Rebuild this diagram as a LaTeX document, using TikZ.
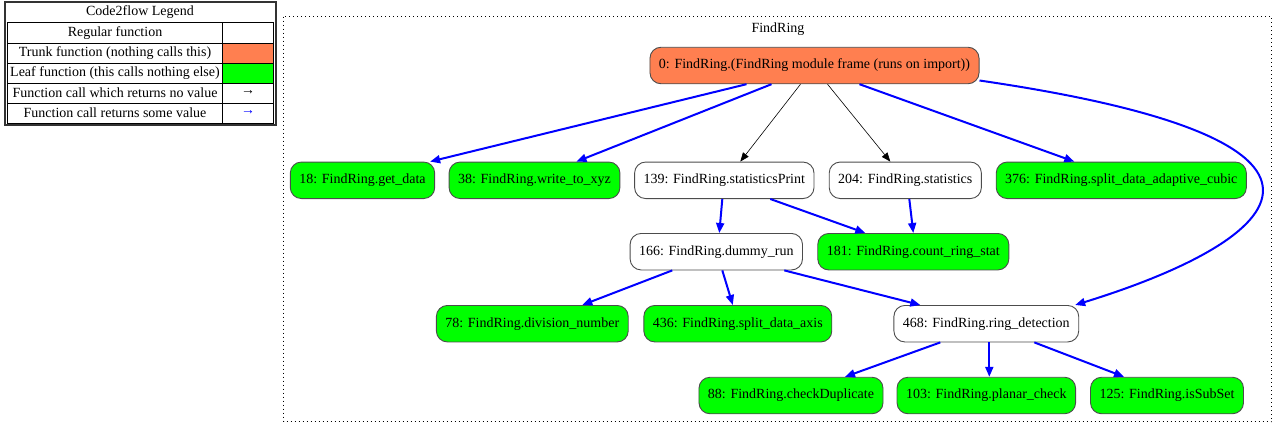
\documentclass[tikz,border=0pt]{standalone}
\usepackage{fontspec}
\setmainfont{Liberation Serif}
\usetikzlibrary{arrows.meta}
\definecolor{trunkcol}{RGB}{255,127,80}
\definecolor{leafcol}{RGB}{0,255,0}
\begin{document}
\begin{tikzpicture}[x=1pt, y=-1pt, every node/.style = {shape=rectangle, rounded corners=11pt, draw=black!70, line width=0.9pt, minimum height=36.5pt, inner xsep=9pt, font=\fontsize{14}{16}\selectfont}]
	\tikzstyle{regular} = [fill=white]
	\tikzstyle{trunk} = [fill=trunkcol]
	\tikzstyle{leaf} = [fill=leafcol]
	\tikzstyle{cell} = [draw=none, fill=none, rounded corners=0pt, minimum height=0pt, inner sep=0pt]
	\tikzstyle{call} = [-{Triangle[length=9pt, width=7pt]}, black, line width=0.6pt]
	\tikzstyle{ret} = [-{Triangle[length=10pt, width=8pt]}, blue, line width=2pt]
	\useasboundingbox (0,0) rectangle (1285,434);
	% legend
	\fill[trunkcol] (222.7,43.3) rectangle (273.5,63.3);
	\fill[leafcol] (222.7,63.3) rectangle (273.5,83.3);
	\draw[line width=1.6pt, black!80] (5,2) rectangle (276,125);
	\draw[line width=0.8pt] (7.5,22.5) rectangle (273.5,123);
	\foreach \y in {43.3, 63.3, 83.3, 103.3} \draw[line width=0.8pt] (7.5,\y) -- (273.5,\y);
	\draw[line width=0.8pt] (222.7,22.5) -- (222.7,123);
	\node[cell] (legtitle) at (140,12.5) {Code2flow Legend};
	\node[cell] (legreg) at (115,33) {Regular function};
	\node[cell] (legtrunk) at (115,53) {Trunk function (nothing calls this)};
	\node[cell] (legleaf) at (115,73) {Leaf function (this calls nothing else)};
	\node[cell] (legcall) at (115,93) {Function call which returns no value};
	\node[cell] (legret) at (115,113) {Function call returns some value};
	\node[cell] (legcallarr) at (248,93) {→};
	\node[cell, text=blue] (legretarr) at (248,113) {→};
	% cluster
	\draw[dash pattern=on 1pt off 3pt, line width=0.9pt] (283.5,16.5) rectangle (1271.5,421.5);
	\node[cell] (clusterlbl) at (778,29) {FindRing};
	% functions
	\node[trunk] (module) at (814.5,65.5) {0: FindRing.(FindRing module frame (runs on import))};
	\node[leaf] (getdata) at (362.5,180.3) {18: FindRing.get\_data};
	\node[leaf] (writexyz) at (534.5,180.3) {38: FindRing.write\_to\_xyz};
	\node[regular] (statprint) at (724.3,180.3) {139: FindRing.statisticsPrint};
	\node[regular] (stats) at (905.3,180.3) {204: FindRing.statistics};
	\node[leaf] (cubic) at (1121.3,180.3) {376: FindRing.split\_data\_adaptive\_cubic};
	\node[regular] (dummy) at (716.3,251.7) {166: FindRing.dummy\_run};
	\node[leaf] (countring) at (913.3,251.7) {181: FindRing.count\_ring\_stat};
	\node[leaf] (division) at (532.3,323.7) {78: FindRing.division\_number};
	\node[regular] (ringdet) at (986.3,323.7) {468: FindRing.ring\_detection};
	\node[leaf] (axis) at (737.8,323.7) {436: FindRing.split\_data\_axis};
	\node[leaf] (checkdup) at (791,395.5) {88: FindRing.checkDuplicate};
	\node[leaf] (planar) at (986.3,395.5) {103: FindRing.planar\_check};
	\node[leaf] (subset) at (1167,395.5) {125: FindRing.isSubSet};
	% calls
	\draw[ret] ([xshift=-68pt]module.south) -- ([xshift=-5pt]getdata.north east);
	\draw[ret] ([xshift=-43pt]module.south) -- ([xshift=42pt]writexyz.north);
	\draw[call] ([xshift=-14pt]module.south) -- ([xshift=16pt]statprint.north);
	\draw[call] ([xshift=13pt]module.south) -- ([xshift=-15pt]stats.north);
	\draw[ret] ([xshift=45pt]module.south) -- ([xshift=-47pt]cubic.north);
	\draw[ret] ([yshift=-15pt]module.east) .. controls (1388,140) and (1292,238) .. ([xshift=-4pt]ringdet.north east);
	\draw[ret] ([xshift=-2pt]statprint.south) -- ([xshift=3pt]dummy.north);
	\draw[ret] ([xshift=46pt]statprint.south) -- ([xshift=-48pt]countring.north);
	\draw[ret] ([xshift=4pt]stats.south) -- ([xshift=0pt]countring.north);
	\draw[ret] ([xshift=-44pt]dummy.south) -- ([xshift=50pt]division.north);
	\draw[ret] ([xshift=6pt]dummy.south) -- ([xshift=-5pt]axis.north);
	\draw[ret] ([xshift=68pt]dummy.south) -- ([xshift=-66pt]ringdet.north);
	\draw[ret] ([xshift=-46pt]ringdet.south) -- ([xshift=54pt]checkdup.north);
	\draw[ret] ([xshift=3pt]ringdet.south) -- ([xshift=3pt]planar.north);
	\draw[ret] ([xshift=48pt]ringdet.south) -- ([xshift=-43pt]subset.north);
\end{tikzpicture}
\end{document}
